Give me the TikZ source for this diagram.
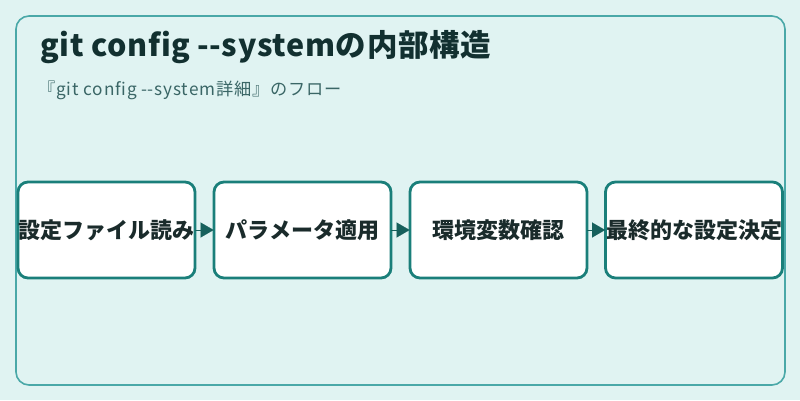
\documentclass[tikz,border=0pt]{standalone}
\usepackage{fontspec}
\setmainfont{Noto Sans CJK JP}[Ligatures=NoCommon]
\newfontfamily\titlefont{Noto Sans CJK JP}[Ligatures=NoCommon,LetterSpace=2.2]
\newfontfamily\subfont{Noto Sans CJK JP}[Ligatures=NoCommon,LetterSpace=5]
\usetikzlibrary{arrows.meta}
\definecolor{bgc}{HTML}{E0F3F2}
\definecolor{outerc}{HTML}{4AA8A8}
\definecolor{boxc}{HTML}{1A7F7A}
\definecolor{txtc}{HTML}{1A2B2B}
\definecolor{titlec}{HTML}{123030}
\definecolor{subc}{HTML}{3A6666}
\definecolor{arrc}{HTML}{16605C}
\newcommand{\dd}{-\kern0pt-}
\begin{document}
\begin{tikzpicture}[x=1pt,y=-1pt,
  stepbox/.style={draw=boxc,line width=2.8pt,fill=white,rounded corners=10pt,
    minimum width=177pt,minimum height=96pt,inner sep=0pt,
    font=\fontsize{22}{24}\selectfont\bfseries,text=txtc},
  flow/.style={draw=arrc,fill=arrc,line width=0.1pt,-{Triangle[length=13pt,width=15pt]},shorten <=0pt}]
\useasboundingbox (0,0) rectangle (800,400);
\fill[bgc] (0,0) rectangle (800,400);
\draw[outerc,line width=1.6pt,fill=bgc,rounded corners=13pt] (16,16) rectangle (785,385);
\node[anchor=west,font=\titlefont\fontsize{30.5}{34}\selectfont\bfseries,text=titlec,inner sep=0pt] (title) at (40,47) {git config \dd systemの内部構造};
\node[anchor=west,font=\subfont\fontsize{17.2}{20}\selectfont,text=subc,inner sep=0pt] (sub) at (38,90) {『git config \dd system詳細』のフロー};
\node[stepbox] (b1) at (106.5,230) {設定ファイル読み};
\node[stepbox] (b2) at (302.5,230) {パラメータ適用};
\node[stepbox] (b3) at (498.5,230) {環境変数確認};
\node[stepbox] (b4) at (694,230) {最終的な設定決定};
\foreach \a/\b in {b1/b2,b2/b3,b3/b4}{
  \draw[flow] ([xshift=-1pt]\a.east) -- ([xshift=1pt]\b.west);
}
\end{tikzpicture}
\end{document}
